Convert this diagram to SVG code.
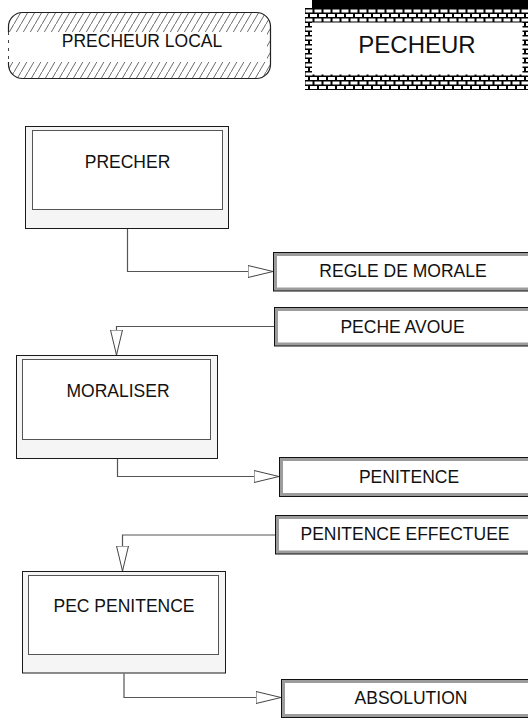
<svg xmlns="http://www.w3.org/2000/svg" width="528" height="718" viewBox="0 0 528 718">
<style>
text{font-family:"Liberation Sans",Arial,sans-serif;fill:#111;text-anchor:middle}
.lbl{font-size:17.5px}
.big{font-size:24px}
.pout{fill:#f5f5f5;stroke:#1a1a1a;stroke-width:1}
.pin{fill:#fff;stroke:#555;stroke-width:1}
.dout{fill:#9c9c9c;stroke:#111;stroke-width:1}
.din{fill:#fff;stroke:none}
.conn{fill:none;stroke:#555;stroke-width:1.2}
</style>
<defs>
<pattern id="hatch" patternUnits="userSpaceOnUse" width="7" height="12">
<path d="M-0.5,12.86 L7.5,-0.86" stroke="#444" stroke-width="0.8" fill="none"/>
</pattern>
<pattern id="brick" patternUnits="userSpaceOnUse" x="305" y="8" width="9" height="9">
<rect width="9" height="9" fill="#000"/>
<rect x="0.5" y="1.5" width="7" height="3" fill="#fff"/>
<rect x="5" y="6" width="7" height="3" fill="#fff"/>
<rect x="-4" y="6" width="7" height="3" fill="#fff"/>
</pattern>
<marker id="arr" markerUnits="userSpaceOnUse" markerWidth="27" markerHeight="14" refX="25.5" refY="7" orient="auto" viewBox="0 0 27 14">
<path d="M0.5,1 L25.5,7 L0.5,13 Z" fill="#fff" stroke="#444" stroke-width="1"/>
</marker>
</defs>

<g id="precheur-local">
<rect x="8.5" y="12.5" width="262" height="66" rx="14" ry="14" fill="url(#hatch)" stroke="#222" stroke-width="1.2"/>
<rect x="7" y="32" width="260" height="30" fill="#fff"/>
<path d="M8.5,32 V62" stroke="#444" stroke-width="1" stroke-dasharray="3,5"/>
<text class="lbl" x="142" y="47">PRECHEUR LOCAL</text>
</g>

<g id="pecheur">
<rect x="312" y="0" width="216" height="8" fill="#000"/>
<rect x="305" y="8" width="226" height="82" fill="url(#brick)"/>
<rect x="312" y="22.5" width="210.5" height="52" fill="#fff"/>
<text class="big" x="417" y="52.5">PECHEUR</text>
</g>

<g id="precher">
<rect class="pout" x="25.5" y="126.5" width="203" height="102"/>
<rect class="pin" x="32.5" y="130.5" width="190" height="79"/>
<text class="lbl" x="127.5" y="167.5">PRECHER</text>
</g>

<g id="regle-de-morale">
<rect class="dout" x="273.5" y="252.5" width="260" height="38.5"/>
<rect class="din" x="277" y="256" width="253" height="31.5"/>
<text class="lbl" x="403" y="277">REGLE DE MORALE</text>
</g>

<g id="peche-avoue">
<rect class="dout" x="274.5" y="307.5" width="258" height="38.5"/>
<rect class="din" x="278" y="311" width="251" height="31.5"/>
<text class="lbl" x="402.5" y="332.5">PECHE AVOUE</text>
</g>

<g id="moraliser">
<rect class="pout" x="16.5" y="355.5" width="201" height="103"/>
<rect class="pin" x="22.5" y="359.5" width="188" height="80"/>
<text class="lbl" x="118" y="396.5">MORALISER</text>
</g>

<g id="penitence">
<rect class="dout" x="279.5" y="457.5" width="258" height="39"/>
<rect class="din" x="283" y="461" width="251" height="32"/>
<text class="lbl" x="409" y="482.5">PENITENCE</text>
</g>

<g id="penitence-effectuee">
<rect class="dout" x="275.5" y="515.5" width="258" height="38.5"/>
<rect class="din" x="279" y="519" width="251" height="31.5"/>
<text class="lbl" x="405" y="540">PENITENCE EFFECTUEE</text>
</g>

<g id="pec-penitence">
<rect class="pout" x="22.5" y="571.5" width="203" height="101.5"/>
<rect class="pin" x="28.5" y="575.5" width="190" height="79"/>
<text class="lbl" x="124" y="612">PEC PENITENCE</text>
</g>

<g id="absolution">
<rect class="dout" x="281.5" y="679.5" width="258" height="38"/>
<rect class="din" x="285" y="683" width="251" height="31"/>
<text class="lbl" x="411" y="704">ABSOLUTION</text>
</g>

<g id="connectors">
<path class="conn" d="M127.5,229 V271.5 H273" marker-end="url(#arr)"/>
<path class="conn" d="M274,326.5 H116.5 V355" marker-end="url(#arr)"/>
<path class="conn" d="M117.5,459 V476.5 H279" marker-end="url(#arr)"/>
<path class="conn" d="M275,535 H122.5 V571" marker-end="url(#arr)"/>
<path class="conn" d="M124,673.5 V697.5 H281" marker-end="url(#arr)"/>
</g>
</svg>
